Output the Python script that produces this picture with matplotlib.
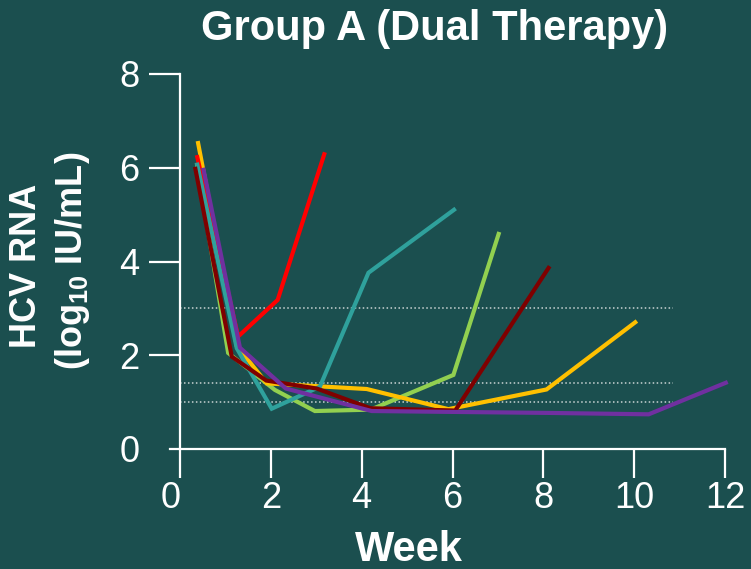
import matplotlib
matplotlib.use("Agg")
import matplotlib.pyplot as plt
import matplotlib.transforms as mtransforms

plt.rcParams['font.family'] = ['Liberation Sans', 'DejaVu Sans']
plt.rcParams['mathtext.fontset'] = 'custom'
plt.rcParams['mathtext.rm'] = 'Liberation Sans:bold'
plt.rcParams['mathtext.bf'] = 'Liberation Sans:bold'
plt.rcParams['mathtext.default'] = 'bf'

BG = '#1B4F4F'

# Patient viral-load trajectories (week, log10 IU/mL)
green_weeks = [0.37, 1.06, 2.09, 2.97, 4.20, 6.02, 7.03]
green_vals = [6.10, 2.05, 1.26, 0.81, 0.84, 1.58, 4.63]

yellow_weeks = [0.39, 1.25, 1.91, 4.11, 5.91, 8.07, 10.06]
yellow_vals = [6.57, 2.20, 1.40, 1.28, 0.85, 1.27, 2.73]

red_weeks = [0.37, 1.28, 2.15, 3.19]
red_vals = [6.27, 2.40, 3.18, 6.33]

teal_weeks = [0.37, 1.25, 2.02, 3.08, 4.15, 6.07]
teal_vals = [6.11, 2.15, 0.86, 1.33, 3.76, 5.13]

darkred_weeks = [0.33, 1.14, 1.90, 3.01, 4.19, 6.06, 8.14]
darkred_vals = [6.02, 1.97, 1.46, 1.29, 0.87, 0.82, 3.90]

purple_weeks = [0.51, 1.32, 2.33, 4.22, 6.10, 8.10, 10.32, 12.06]
purple_vals = [6.00, 2.16, 1.29, 0.81, 0.79, 0.77, 0.74, 1.43]

# Reference thresholds (log10 IU/mL)
threshold_vals = [3.0, 1.4, 1.0]
threshold_end = 10.85

x_ticks = [0, 2, 4, 6, 8, 10, 12]
y_ticks = [0, 2, 4, 6, 8]

series = [
    (green_weeks, green_vals, '#92D050'),
    (yellow_weeks, yellow_vals, '#FFC000'),
    (red_weeks, red_vals, '#FF0000'),
    (teal_weeks, teal_vals, '#2FA19C'),
    (darkred_weeks, darkred_vals, '#7F0000'),
    (purple_weeks, purple_vals, '#7030A0'),
]

fig = plt.figure(figsize=(7.51, 5.69), dpi=100, facecolor=BG)
ax = fig.add_axes([180 / 751, 120 / 569, 545 / 751, 375 / 569])
ax.set_facecolor(BG)

for yv in threshold_vals:
    ax.plot([0, threshold_end], [yv, yv], color='#C9D3D3', lw=1.1,
            linestyle=(0, (1, 1.6)), zorder=1)

for wk, vals, col in series:
    ax.plot(wk, vals, color=col, lw=3.0, solid_joinstyle='miter',
            solid_capstyle='butt', zorder=3, clip_on=False)

ax.set_xlim(0, 12)
ax.set_ylim(0, 8)

for s in ['top', 'right']:
    ax.spines[s].set_visible(False)
for s in ['left', 'bottom']:
    ax.spines[s].set_color('white')
    ax.spines[s].set_linewidth(1.6)
ax.spines['bottom'].set_bounds(-0.22, 12)
ax.spines['left'].set_bounds(0, 8)

ax.set_xticks(x_ticks)
ax.set_yticks(y_ticks)
ax.set_xticklabels([str(v) for v in x_ticks])
ax.set_yticklabels([str(v) for v in y_ticks])
ax.tick_params(axis='x', direction='out', length=21, width=1.6, color='white',
               labelcolor='white', labelsize=26, pad=2)
ax.tick_params(axis='y', direction='out', length=22, width=1.6, color='white',
               labelcolor='white', labelsize=26, pad=7)
ax.yaxis.get_major_ticks()[0].tick1line.set_visible(False)

# nudge the "0" on the week axis left of its tick
lbl0 = ax.get_xticklabels()[0]
lbl0.set_transform(lbl0.get_transform() +
                   mtransforms.ScaledTranslation(-9 / 100, 0, fig.dpi_scale_trans))

fig.text(435 / 751, 1 - 29 / 569, 'Group A (Dual Therapy)', color='white',
         fontsize=30, fontweight='bold', ha='center', va='center')
fig.text(409 / 751, 1 - 550 / 569, 'Week', color='white',
         fontsize=30, fontweight='bold', ha='center', va='center')
fig.text(27 / 751, 1 - 266 / 569, 'HCV RNA', color='white', fontsize=26,
         fontweight='bold', rotation=90, ha='center', va='center')
fig.text(73 / 751, 1 - 261 / 569, r'(log$_{10}$ IU/mL)', color='white',
         fontsize=26, fontweight='bold', rotation=90, ha='center', va='center')

fig.savefig('out.png', dpi=100, facecolor=BG)
